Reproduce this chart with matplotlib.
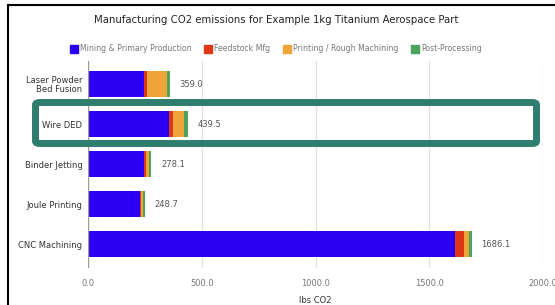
import matplotlib.pyplot as plt
from matplotlib.lines import Line2D
from matplotlib.patches import FancyBboxPatch

categories = ["Laser Powder\nBed Fusion", "Wire DED", "Binder Jetting", "Joule Printing", "CNC Machining"]
series_names = ["Mining & Primary Production", "Feedstock Mfg", "Printing / Rough Machining", "Post-Processing"]
mining = [246.0, 357.0, 246.0, 228.0, 1611.0]
feedstock = [12.0, 15.0, 11.0, 7.0, 41.0]
printing = [88.0, 50.0, 10.0, 5.0, 21.0]
post = [13.0, 17.5, 11.1, 8.7, 13.1]
xticks = [0, 500, 1000, 1500, 2000]

colors = ["#2a00f2", "#dc3816", "#eda53a", "#4ba35c"]

W, H = 555, 305
fig = plt.figure(figsize=(W / 100, H / 100), dpi=100)
fig.patch.set_facecolor("white")

ax = fig.add_axes([88 / W, 1 - 268 / H, (543 - 88) / W, (268 - 60.5) / H])

ypos = list(range(len(categories)))
left = [0.0] * len(categories)
for vals, col, name in zip([mining, feedstock, printing, post], colors, series_names):
    ax.barh(ypos, vals, left=left, height=0.65, color=col, label=name)
    left = [l + v for l, v in zip(left, vals)]

for y, tot in zip(ypos, left):
    ax.annotate(f"{tot:.1f}", (tot, y), xytext=(7, 0), textcoords="offset points",
                va="center", ha="left", fontsize=6, color="#555555")

ax.set_xlim(0, 2000)
ax.set_ylim(4.6, -0.6)
ax.set_yticks(ypos)
ax.set_yticklabels(categories, fontsize=6, color="#333333", linespacing=0.95)
ax.set_xticks(xticks)
ax.set_xticklabels([f"{t:.1f}" for t in xticks], fontsize=6, color="#777777")
ax.tick_params(axis="both", length=0)
ax.tick_params(axis="x", pad=8)
ax.tick_params(axis="y", pad=4)
for s in ax.spines.values():
    s.set_visible(False)
ax.axvline(0, color="#9a9a9a", lw=1, zorder=3)
for t in xticks[1:]:
    ax.axvline(t, color="#e2e2e2", lw=0.9, zorder=0)
ax.set_xlabel("lbs CO2", fontsize=6, color="#333333", labelpad=6)

fig.text(276 / W, 1 - 20 / H, "Manufacturing CO2 emissions for Example 1kg Titanium Aerospace Part",
         ha="center", va="center", fontsize=7.3, color="#222222")

handles = [Line2D([], [], marker="s", ls="none", markersize=5.5, color=c) for c in colors]
fig.legend(handles, series_names, loc="center", bbox_to_anchor=(276 / W, 1 - 49 / H),
           ncol=4, frameon=False, fontsize=5.6, labelcolor="#777777",
           handletextpad=0.3, columnspacing=1.6, handlelength=1.0)

# highlight box around Wire DED
box = FancyBboxPatch((35.5 / W, 1 - 143.5 / H), (536.5 - 35.5) / W, (143.5 - 102.5) / H,
                     boxstyle="round,pad=0,rounding_size=0.008", transform=fig.transFigure,
                     fill=False, edgecolor="#2f7d6e", lw=5.0, zorder=10)
fig.patches.append(box)

# slide frame
fig.add_artist(Line2D([8 / W, 1], [1 - 5 / H, 1 - 5 / H], color="black", lw=1.5, transform=fig.transFigure))
fig.add_artist(Line2D([8 / W, 8 / W], [0, 1 - 5 / H], color="black", lw=1.5, transform=fig.transFigure))

fig.savefig("out.png", dpi=100)
